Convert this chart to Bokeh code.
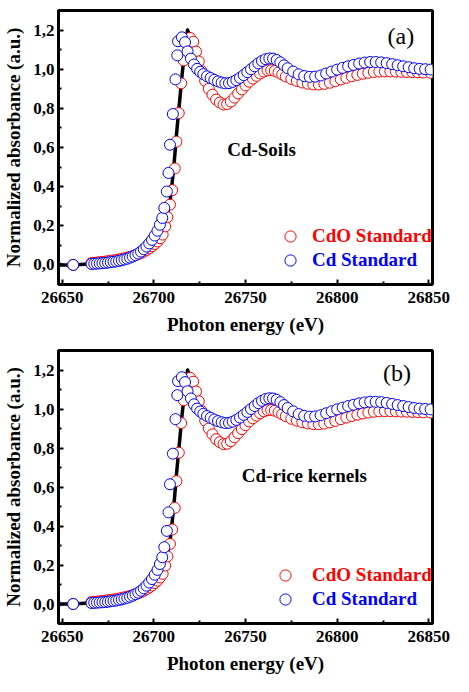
from bokeh.plotting import figure
from bokeh.models import (Range1d, FixedTicker, CustomJSTickFormatter, Legend,
                          LegendItem, Label)
from bokeh.layouts import column
from bokeh.embed import file_html
from bokeh.resources import INLINE

# ---------------- data ----------------
x_ticks = [26650, 26700, 26750, 26800, 26850]
x_minor_ticks = [26675, 26725, 26775, 26825]
y_ticks = [0.0, 0.2, 0.4, 0.6, 0.8, 1.0, 1.2]
y_tick_labels = ["0,0", "0,2", "0,4", "0,6", "0,8", "1,0", "1,2"]
y_minor_ticks = [0.1, 0.3, 0.5, 0.7, 0.9, 1.1]

x_title = "Photon energy (eV)"
y_title = "Normalized absorbance (a.u.)"
series_names = ["CdO Standard", "Cd Standard"]
panel_tags = ["(a)", "(b)"]
panel_samples = ["Cd-Soils", "Cd-rice kernels"]

# Cd metal standard (blue)
cd_e = [26646, 26656, 26666, 26667.5, 26669, 26670.5, 26672, 26673.5, 26675, 26676.5,
        26678, 26679.5, 26681, 26682.5, 26684, 26685.5, 26687, 26688.5, 26690, 26691.5,
        26693, 26694.5, 26696, 26697.5, 26699, 26700.5, 26702, 26703.3, 26704.6, 26705.7,
        26707.1, 26708.0, 26708.8, 26710.4, 26711.8, 26712.8, 26713.2, 26715.3, 26717.0, 26718.4,
        26720.2, 26721.9, 26723.6, 26725.3, 26727, 26729, 26731, 26733, 26735, 26737,
        26739, 26741, 26743, 26745, 26747, 26749, 26751, 26753, 26755, 26757,
        26759, 26761, 26763, 26765, 26767, 26769, 26771, 26773, 26776, 26779,
        26782, 26785, 26788, 26791, 26794, 26797, 26800, 26803, 26806, 26809,
        26812, 26815, 26818, 26821, 26824, 26827, 26830, 26833, 26836, 26839,
        26842, 26845, 26848, 26851]
cd_y = [0.0, 0.0, 0.005, 0.006, 0.007, 0.008, 0.009, 0.010, 0.012, 0.014,
        0.016, 0.018, 0.021, 0.024, 0.028, 0.032, 0.037, 0.043, 0.050, 0.058,
        0.068, 0.080, 0.094, 0.110, 0.128, 0.150, 0.175, 0.205, 0.240, 0.291,
        0.375, 0.470, 0.614, 0.771, 0.948, 1.071, 1.143, 1.163, 1.138, 1.091,
        1.054, 1.024, 1.002, 0.987, 0.975, 0.964, 0.955, 0.946, 0.938, 0.932,
        0.928, 0.929, 0.935, 0.944, 0.956, 0.970, 0.985, 1.000, 1.015, 1.030,
        1.042, 1.051, 1.055, 1.054, 1.047, 1.035, 1.020, 1.005, 0.988, 0.974,
        0.965, 0.961, 0.962, 0.968, 0.978, 0.988, 0.998, 1.007, 1.015, 1.022,
        1.029, 1.034, 1.037, 1.037, 1.035, 1.031, 1.026, 1.020, 1.015, 1.010,
        1.005, 1.002, 1.000, 0.998]

# CdO standard (red)
cdo_e = [26646, 26656, 26666, 26667.5, 26669, 26670.5, 26672, 26673.5, 26675, 26676.5,
         26678, 26679.5, 26681, 26682.5, 26684, 26685.5, 26687, 26688.5, 26690, 26691.5,
         26693, 26694.5, 26696, 26697.5, 26699, 26700.5, 26702, 26703.4, 26704.8, 26706.2,
         26707.4, 26708.8, 26710.0, 26711.4, 26712.3, 26713.6, 26714.9, 26716.3, 26718.0, 26719.8,
         26721.5, 26723.0, 26724.5, 26726, 26728, 26730, 26732, 26734, 26736, 26738,
         26740, 26742, 26744, 26746, 26748, 26750, 26752, 26754, 26756, 26758,
         26760, 26762, 26764, 26766, 26768, 26770, 26772, 26775, 26778, 26781,
         26784, 26787, 26790, 26793, 26796, 26799, 26802, 26805, 26808, 26811,
         26814, 26817, 26820, 26823, 26826, 26829, 26832, 26835, 26838, 26841,
         26844, 26847, 26851]
cdo_y = [0.0, 0.0, 0.010, 0.011, 0.012, 0.014, 0.015, 0.017, 0.019, 0.021,
         0.023, 0.025, 0.028, 0.031, 0.034, 0.037, 0.041, 0.045, 0.050, 0.055,
         0.061, 0.068, 0.076, 0.085, 0.095, 0.107, 0.120, 0.136, 0.155, 0.197,
         0.244, 0.308, 0.382, 0.493, 0.630, 0.776, 0.928, 1.045, 1.130, 1.160,
         1.140, 1.090, 1.040, 0.990, 0.940, 0.900, 0.870, 0.845, 0.830, 0.820,
         0.822, 0.835, 0.855, 0.876, 0.897, 0.917, 0.936, 0.952, 0.966, 0.978,
         0.988, 0.994, 0.995, 0.991, 0.983, 0.973, 0.963, 0.950, 0.940, 0.932,
         0.926, 0.922, 0.922, 0.925, 0.931, 0.939, 0.948, 0.956, 0.964, 0.971,
         0.977, 0.982, 0.986, 0.988, 0.989, 0.989, 0.988, 0.987, 0.986, 0.985,
         0.984, 0.983, 0.982]

# sample spectrum (black line)
sample_e = [26646, 26656, 26666, 26676, 26684, 26690, 26695, 26699, 26702, 26704.5,
            26706.5, 26708.8, 26709.7, 26710.9, 26712.3, 26714.0, 26715.5, 26717.0, 26718.4, 26720.0,
            26721.5, 26723, 26724.5, 26726, 26728, 26730, 26732, 26734, 26736, 26738,
            26740, 26744, 26748, 26752, 26756, 26760, 26764, 26768, 26772, 26778,
            26784, 26790, 26796, 26802, 26808, 26814, 26820, 26826, 26832, 26838,
            26844, 26851]
sample_y = [0.0, 0.0, 0.006, 0.015, 0.028, 0.045, 0.065, 0.09, 0.12, 0.16,
            0.22, 0.32, 0.395, 0.50, 0.66, 0.83, 0.98, 1.10, 1.20, 1.16,
            1.14, 1.09, 1.04, 0.99, 0.94, 0.90, 0.87, 0.845, 0.83, 0.82,
            0.822, 0.855, 0.897, 0.936, 0.966, 0.988, 0.995, 0.983, 0.963, 0.94,
            0.926, 0.922, 0.931, 0.948, 0.964, 0.977, 0.986, 0.989, 0.988, 0.986,
            0.984, 0.982]

FONT = "Liberation Serif"


def make_panel(tag, sample_name, tag_xy, name_xy, leg_dx, leg_standoff, top, bottom):
    p = figure(width=453, height=338, output_backend="svg", toolbar_location=None,
               x_range=Range1d(26648, 26852), y_range=Range1d(-0.1, 1.3),
               min_border_left=53, min_border_right=21, min_border_top=top,
               min_border_bottom=bottom)
    p.background_fill_color = "white"
    p.border_fill_color = "white"
    p.outline_line_color = "black"
    p.outline_line_width = 3
    p.xgrid.visible = False
    p.ygrid.visible = False

    p.xaxis.ticker = FixedTicker(ticks=x_ticks, minor_ticks=x_minor_ticks)
    p.yaxis.ticker = FixedTicker(ticks=y_ticks, minor_ticks=y_minor_ticks)
    p.yaxis.formatter = CustomJSTickFormatter(
        args=dict(vals=y_ticks, labs=y_tick_labels),
        code="""
        for (let i = 0; i < vals.length; i++) {
            if (Math.abs(vals[i] - tick) < 1e-9) { return labs[i]; }
        }
        return "";
        """)
    for ax in (p.xaxis[0], p.yaxis[0]):
        ax.axis_line_width = 3
        ax.axis_line_color = "black"
        ax.major_tick_in = 5
        ax.major_tick_out = 0
        ax.minor_tick_in = 3
        ax.minor_tick_out = 0
        ax.major_tick_line_width = 2
        ax.minor_tick_line_width = 2
        ax.major_label_text_font = FONT
        ax.major_label_text_font_style = "bold"
        ax.major_label_text_font_size = "17px"
        ax.major_label_text_color = "black"
        ax.axis_label_text_font = FONT
        ax.axis_label_text_font_style = "bold"
        ax.axis_label_text_font_size = "19px"
        ax.axis_label_text_color = "black"
    p.xaxis.axis_label = x_title
    p.yaxis.axis_label = y_title
    p.xaxis.major_label_standoff = 7
    p.xaxis.axis_label_standoff = 8
    p.yaxis.major_label_standoff = 4
    p.yaxis.axis_label_standoff = 6

    p.line(sample_e, sample_y, line_color="black", line_width=3.5, line_join="round")
    r_cdo = p.scatter(cdo_e, cdo_y, marker="circle", size=11, line_color="#ff0000",
                      line_width=1, fill_color="white")
    r_cd = p.scatter(cd_e, cd_y, marker="circle", size=11, line_color="#0000ff",
                     line_width=1, fill_color="white")

    for i, (r, col) in enumerate(((r_cdo, "#ff0000"), (r_cd, "#0000ff"))):
        dy = [48, 24][i]
        leg = Legend(items=[LegendItem(label=series_names[i], renderers=[r])],
                     location=(leg_dx - 14, dy - 14), glyph_width=28, glyph_height=28,
                     label_standoff=leg_standoff, padding=0, margin=0, spacing=0,
                     border_line_color=None, background_fill_alpha=0,
                     label_text_font=FONT, label_text_font_style="bold",
                     label_text_font_size="19px", label_text_color=col,
                     label_height=28)
        p.add_layout(leg)

    p.add_layout(Label(x=tag_xy[0], y=tag_xy[1], text=tag, text_font=FONT,
                       text_font_size="24px", text_baseline="middle", text_align="left",
                       text_color="black"))
    p.add_layout(Label(x=name_xy[0], y=name_xy[1], text=sample_name, text_font=FONT,
                       text_font_style="bold", text_font_size="19px",
                       text_baseline="middle", text_align="left", text_color="black"))
    return p


pa = make_panel(panel_tags[0], panel_samples[0], (26827.5, 1.17), (26740, 0.59),
                232, 8, 10, 54)
pb = make_panel(panel_tags[1], panel_samples[1], (26825, 1.185), (26748, 0.66),
                227, 13, 12, 52)

layout = column(pa, pb, spacing=0)
open("out.html", "w").write(file_html(layout, INLINE))
